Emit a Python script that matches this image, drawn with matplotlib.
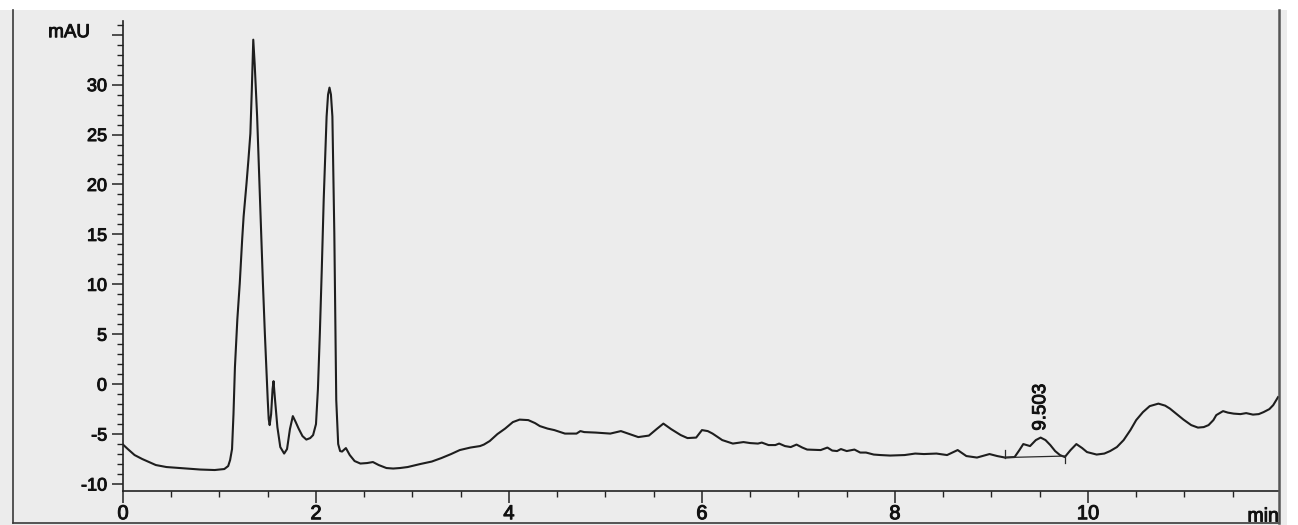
import matplotlib
matplotlib.use("Agg")
import matplotlib.pyplot as plt
import matplotlib.patheffects as pe
from matplotlib.patches import Rectangle
from matplotlib.lines import Line2D
from matplotlib.ticker import MultipleLocator, FixedLocator, FixedFormatter

# Chromatogram trace: retention time (min) and detector response (mAU)
time_min = [
    0.00, 0.05, 0.12, 0.20, 0.34, 0.45, 0.59, 0.80, 0.95, 1.05,
    1.09, 1.11, 1.13, 1.145, 1.16, 1.185, 1.21, 1.235, 1.25, 1.28,
    1.30, 1.32, 1.335, 1.35, 1.365, 1.39, 1.42, 1.45, 1.47, 1.49,
    1.50, 1.51, 1.52, 1.535, 1.55, 1.56, 1.575, 1.60, 1.63, 1.67,
    1.70, 1.73, 1.76, 1.79, 1.82, 1.86, 1.90, 1.94, 1.97, 2.00,
    2.02, 2.04, 2.06, 2.08, 2.11, 2.125, 2.14, 2.155, 2.17, 2.19,
    2.21, 2.23, 2.25, 2.27, 2.31, 2.35, 2.40, 2.46, 2.53, 2.59,
    2.65, 2.73, 2.80, 2.87, 2.95, 3.08, 3.20, 3.30, 3.40, 3.49,
    3.60, 3.70, 3.74, 3.80, 3.88, 3.96, 4.04, 4.11, 4.20, 4.27,
    4.32, 4.40, 4.47, 4.58, 4.70, 4.74, 4.78, 4.90, 5.05, 5.16,
    5.22, 5.34, 5.45, 5.53, 5.60, 5.68, 5.78, 5.85, 5.94, 6.00,
    6.06, 6.11, 6.21, 6.32, 6.43, 6.50, 6.58, 6.62, 6.69, 6.76,
    6.80, 6.86, 6.92, 6.98, 7.04, 7.09, 7.23, 7.30, 7.35, 7.40,
    7.44, 7.50, 7.58, 7.64, 7.70, 7.78, 7.85, 7.95, 8.10, 8.21,
    8.30, 8.43, 8.54, 8.65, 8.74, 8.85, 8.98, 9.06, 9.14, 9.24,
    9.29, 9.33, 9.40, 9.46, 9.51, 9.56, 9.61, 9.66, 9.71, 9.76,
    9.82, 9.88, 9.94, 9.99, 10.09, 10.17, 10.23, 10.30, 10.37, 10.44,
    10.50, 10.57, 10.64, 10.73, 10.80, 10.85, 10.92, 10.99, 11.07, 11.14,
    11.20, 11.25, 11.30, 11.33, 11.40, 11.45, 11.51, 11.58, 11.64, 11.71,
    11.77, 11.82, 11.88, 11.92, 11.97,
]
signal_mau = [
    -6.05, -6.5, -7.1, -7.5, -8.1, -8.3, -8.4, -8.55, -8.6, -8.5,
    -8.2, -7.6, -6.5, -3.0, 1.7, 6.5, 10.1, 14.5, 16.8, 20.1,
    22.5, 25.1, 29.5, 34.5, 32.0, 26.8, 18.5, 10.1, 5.1, 0.5,
    -1.6, -3.5, -4.1, -3.0, -0.5, 0.3, -1.5, -4.3, -6.3, -6.95,
    -6.5, -4.5, -3.2, -3.8, -4.45, -5.2, -5.55, -5.4, -5.1, -4.0,
    -0.5, 5.1, 11.5, 18.5, 26.8, 29.0, 29.7, 29.0, 26.8, 15.1,
    -1.6, -6.0, -6.7, -6.75, -6.4, -7.1, -7.7, -7.95, -7.9, -7.8,
    -8.1, -8.4, -8.45, -8.4, -8.3, -8.0, -7.75, -7.4, -7.0, -6.6,
    -6.35, -6.2, -6.05, -5.7, -5.0, -4.45, -3.8, -3.55, -3.6, -3.9,
    -4.2, -4.45, -4.6, -4.95, -4.95, -4.7, -4.8, -4.85, -4.95, -4.7,
    -4.9, -5.3, -5.15, -4.5, -3.95, -4.5, -5.1, -5.4, -5.35, -4.6,
    -4.7, -4.95, -5.6, -5.95, -5.8, -5.9, -5.95, -5.85, -6.1, -6.1,
    -5.95, -6.2, -6.3, -6.05, -6.35, -6.55, -6.6, -6.35, -6.65, -6.7,
    -6.5, -6.7, -6.55, -6.85, -6.85, -7.05, -7.1, -7.15, -7.1, -6.95,
    -7.0, -6.95, -7.1, -6.6, -7.2, -7.35, -7.0, -7.2, -7.35, -7.3,
    -6.6, -6.0, -6.2, -5.6, -5.35, -5.6, -6.1, -6.7, -7.1, -7.3,
    -6.6, -6.0, -6.4, -6.8, -7.05, -6.95, -6.7, -6.3, -5.6, -4.6,
    -3.6, -2.8, -2.2, -1.95, -2.15, -2.45, -3.0, -3.55, -4.1, -4.35,
    -4.3, -4.1, -3.6, -3.1, -2.7, -2.85, -2.95, -3.0, -2.9, -3.05,
    -3.0, -2.8, -2.5, -2.1, -1.3,
]

# Integrated peak: label, apex and baseline limits
peak_label = "9.503"
peak_apex_time = 9.51
peak_apex_value = -5.35
baseline_time = [9.14, 9.76]
baseline_value = [-7.35, -7.2]

x_major_ticks = [0, 2, 4, 6, 8, 10]
y_major_ticks = [-10, -5, 0, 5, 10, 15, 20, 25, 30, 35]
y_tick_labels = ["-10", "-5", "0", "5", "10", "15", "20", "25", "30", ""]

W, H = 1298, 525
plt.rcParams["font.family"] = ["Liberation Sans", "DejaVu Sans"]
plt.rcParams["axes.unicode_minus"] = False

text_col = "#111111"
# slightly heavier glyphs for all text
heavy = [pe.withStroke(linewidth=0.7, foreground=text_col)]

fig = plt.figure(figsize=(W / 100, H / 100), dpi=100)
fig.patch.set_facecolor("white")

# Grey page behind the plot and the outer frame
fig.add_artist(Rectangle((0, 0), 1287 / W, 515 / H, transform=fig.transFigure,
                         facecolor="#ececec", edgecolor="none", zorder=0))
frame_col = "#3a3a3a"
fig.add_artist(Line2D([13 / W, 13 / W], [2 / H, 515 / H], transform=fig.transFigure,
                      color=frame_col, lw=1.2))
fig.add_artist(Line2D([13 / W, 1279 / W], [2 / H, 2 / H], transform=fig.transFigure,
                      color=frame_col, lw=1.2))
fig.add_artist(Line2D([1279 / W, 1279 / W], [2 / H, 515 / H], transform=fig.transFigure,
                      color="#555555", lw=1.8))

left, right = 123 / W, 1279 / W
bottom, top = 1 - 491 / H, 1 - 20.7 / H
ax = fig.add_axes([left, bottom, right - left, top - bottom])
ax.set_facecolor("none")

ax.plot(time_min, signal_mau, color="#1e1e1e", lw=1.5, solid_joinstyle="round")

# Baseline of the integrated peak with its start/end markers
ax.plot(baseline_time, baseline_value, color="#2a2a2a", lw=0.9)
ax.plot([baseline_time[0]] * 2, [baseline_value[0], baseline_value[0] + 0.8],
        color="#2a2a2a", lw=0.9)
ax.plot([baseline_time[1]] * 2, [baseline_value[1], baseline_value[1] - 0.7],
        color="#2a2a2a", lw=0.9)
ax.annotate(peak_label, xy=(peak_apex_time, peak_apex_value), xytext=(0, 5),
            textcoords="offset points", rotation=90, ha="center", va="bottom",
            fontsize=13.5, color=text_col, path_effects=heavy)

ax.set_xlim(0, 11.98)
ax.set_ylim(-10.7, 36.4)

for side in ("top", "right"):
    ax.spines[side].set_visible(False)
for side in ("left", "bottom"):
    ax.spines[side].set_color("#222222")
    ax.spines[side].set_linewidth(1.2)

ax.xaxis.set_major_locator(FixedLocator(x_major_ticks))
ax.xaxis.set_minor_locator(MultipleLocator(0.5))
ax.yaxis.set_major_locator(FixedLocator(y_major_ticks))
ax.yaxis.set_major_formatter(FixedFormatter(y_tick_labels))
ax.yaxis.set_minor_locator(MultipleLocator(1))

ax.tick_params(axis="x", which="major", direction="out", length=8.5, width=1.1,
               color="#222222", labelsize=14.5, pad=1, labelcolor=text_col)
ax.tick_params(axis="x", which="minor", direction="out", length=4.5, width=1.0,
               color="#222222")
ax.tick_params(axis="y", which="major", direction="out", length=8, width=1.1,
               color="#222222", labelsize=13, pad=3.5, labelcolor=text_col)
ax.tick_params(axis="y", which="minor", direction="out", length=4.3, width=1.0,
               color="#222222")
for lbl in ax.get_xticklabels() + ax.get_yticklabels():
    lbl.set_path_effects(heavy)

# Axis unit labels
ax.annotate("mAU", xy=(0, 35.2), xycoords=("axes fraction", "data"),
            xytext=(-33, 0), textcoords="offset pixels", ha="right", va="center",
            fontsize=13.5, color=text_col, path_effects=heavy)
fig.text(1279 / W, 1 - 521.5 / H, "min", ha="right", va="baseline",
         fontsize=14, color=text_col, path_effects=heavy)

fig.savefig("out.png", dpi=100, facecolor=fig.get_facecolor())
